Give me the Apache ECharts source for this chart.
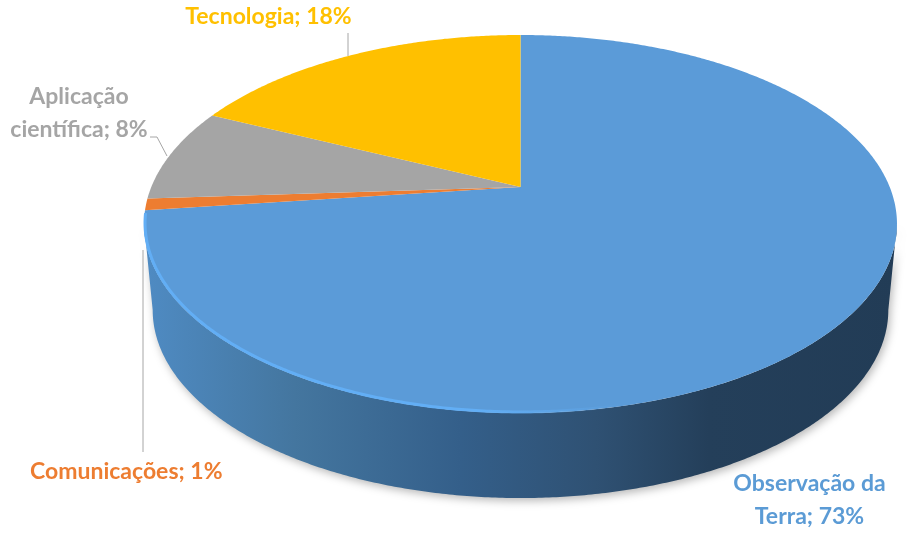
<!DOCTYPE html>
<html>
<head>
<meta charset="utf-8">
<style>html,body{margin:0;padding:0;background:#fff}#c{width:908px;height:541px}</style>
<script src="https://cdn.jsdelivr.net/npm/echarts@6/dist/echarts.min.js"></script>
</head>
<body>
<div id="c"></div>
<script>
const categories = ['Observação da Terra', 'Comunicações', 'Aplicação científica', 'Tecnologia'];
const values = [73, 1, 8, 18];
const labelTexts = ['Observação da\nTerra; 73%', 'Comunicações; 1%', 'Aplicação\ncientífica; 8%', 'Tecnologia; 18%'];
const colors = ['#5b9bd8', '#ed7d31', '#a5a5a5', '#ffc000'];
const labelColors = ['#5b9bd5', '#ed7d31', '#a5a5a5', '#ffc000'];

// Perspective pie geometry (display only)
const PIE = { x: 520.5, y: 187, A: 181.75, k: 0.1957, C: 369.2 };
const WALL = { scaleX: 0.977, scaleY: 0.995, drop: 86, midY: 37 };
const LABELS = [
  { x: 809.5, y: 500, align: 'center', line: null },
  { x: 30, y: 472, align: 'left', line: [[143, 250], [143, 452]] },
  { x: 79, y: 113.5, align: 'center', line: [[150, 137], [157, 137], [167, 156]] },
  { x: 268.5, y: 17, align: 'center', line: [[348, 33], [348, 56]] }
];
const total = values.reduce((a, b) => a + b, 0);

function project(a, r) {
  r = r === undefined ? 1 : r;
  const u = Math.sin(a) * r, v = Math.cos(a) * r, d = 1 + PIE.k * v;
  return [PIE.x + PIE.C * u / d, PIE.y - PIE.A * v / d];
}
function wallPoint(a) {
  const p = project(a);
  return [
    PIE.x + (p[0] - PIE.x) * WALL.scaleX,
    PIE.y + WALL.midY + (p[1] - PIE.y - WALL.midY) * WALL.scaleY + WALL.drop
  ];
}
function arc(from, to, fn) {
  const n = Math.max(2, Math.ceil(Math.abs(to - from) / 0.008));
  const out = [];
  for (let i = 0; i <= n; i++) out.push(fn(from + (to - from) * i / n));
  return out;
}

function renderItem(params, api) {
  const i = params.dataIndex;
  const before = values.slice(0, i).reduce((a, b) => a + b, 0);
  const start = before / total * 2 * Math.PI;
  const end = (before + api.value(0)) / total * 2 * Math.PI;
  const children = [];

  if (i === 0) {
    const aL = Math.acos(-PIE.k), aR = 2 * Math.PI - aL;
    const upper = arc(aL, aR, a => project(a));
    const lower = arc(aR, aL, wallPoint);
    children.push({
      type: 'polygon',
      shape: { points: upper.concat(lower) },
      style: {
        fill: new echarts.graphic.LinearGradient(0, 0, 1, 0, [
          { offset: 0, color: '#4f8bc3' },
          { offset: 0.2, color: '#44769f' },
          { offset: 0.42, color: '#345f8a' },
          { offset: 0.6, color: '#2f5173' },
          { offset: 0.75, color: '#243f5a' },
          { offset: 1, color: '#223c56' }
        ]),
        shadowBlur: 9,
        shadowOffsetX: 2,
        shadowOffsetY: 3,
        shadowColor: 'rgba(0,0,0,0.28)'
      }
    });
  }

  const pts = [[PIE.x, PIE.y]].concat(arc(start, end, a => project(a)));
  children.push({
    type: 'polygon',
    shape: { points: pts },
    style: { fill: colors[i] }
  });

  if (i === 0) {
    // light bevel along the near-left edge of the top face
    const rim = arc(end - 0.02, Math.PI * 0.93, a => {
      const p = project(a);
      return [p[0] + 1, p[1] - 1];
    });
    children.push({
      type: 'polyline',
      shape: { points: rim },
      style: {
        fill: null,
        lineWidth: 3,
        stroke: new echarts.graphic.LinearGradient(0, 0, 1, 0, [
          { offset: 0, color: '#62aef5' },
          { offset: 0.7, color: '#62aef5' },
          { offset: 1, color: 'rgba(98,174,245,0)' }
        ])
      }
    });
  }
  return { type: 'group', children: children };
}

function renderLabel(params) {
  const i = params.dataIndex, L = LABELS[i], children = [];
  if (L.line) {
    children.push({
      type: 'polyline',
      shape: { points: L.line },
      style: { fill: null, stroke: '#a6a6a6', lineWidth: 1 }
    });
  }
  children.push({
    type: 'text',
    x: L.x,
    y: L.y,
    style: {
      text: labelTexts[i],
      fill: labelColors[i],
      font: 'bold 23px Lato, "Open Sans", sans-serif',
      lineHeight: 33,
      align: L.align,
      verticalAlign: 'middle'
    }
  });
  return { type: 'group', children: children };
}

const chart = echarts.init(document.getElementById('c'), null, { renderer: 'canvas' });
chart.setOption({
  animation: false,
  backgroundColor: '#ffffff',
  series: [
    {
      type: 'custom', coordinateSystem: 'none', renderItem: renderItem, silent: true, z: 2,
      data: categories.map((c, i) => ({ name: c, value: [values[i]] }))
    },
    {
      type: 'custom', coordinateSystem: 'none', renderItem: renderLabel, silent: true, z: 3,
      data: categories.map((c, i) => ({ name: c, value: [values[i]] }))
    }
  ]
});
</script>
</body>
</html>
